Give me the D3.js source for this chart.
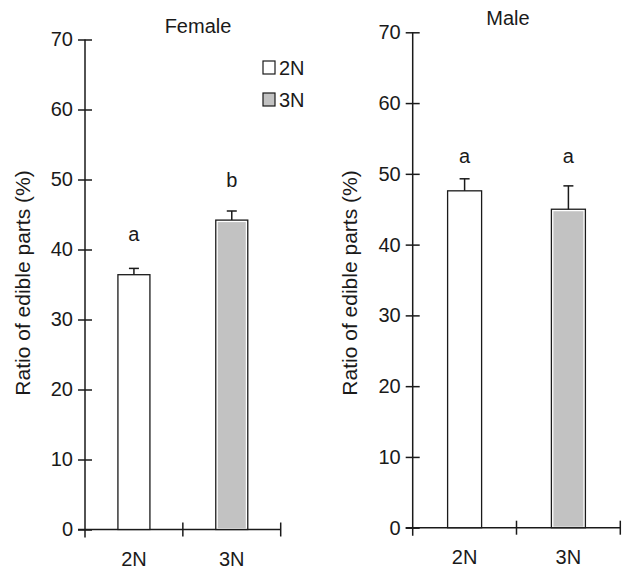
<!DOCTYPE html>
<html>
<head>
<meta charset="utf-8">
<script src="https://cdn.jsdelivr.net/npm/d3@7"></script>
<style>
  body { margin: 0; background: #fff; }
  text { font-family: "Liberation Sans", Arial, sans-serif; fill: #1a1a1a; }
</style>
</head>
<body>
<svg id="chart"></svg>
<script>
// values
const categories = ['2N', '3N'];
const femaleMeans = [36.4, 44.2];
const femaleSE = [0.9, 1.3];
const femaleLetters = ['a', 'b'];
const femaleLetterLevel = [41.2, 48.9];
const maleMeans = [47.6, 45.0];
const maleSE = [1.7, 3.3];
const maleLetters = ['a', 'a'];
const maleLetterLevel = [51.5, 51.5];
const yTicks = [0, 10, 20, 30, 40, 50, 60, 70];

const fills = { '2N': '#ffffff', '3N': '#c2c2c2' };

const svg = d3.select('#chart')
    .attr('width', 622)
    .attr('height', 569);

function panel(opt) {
    const g = svg.append('g');

    const y = d3.scaleLinear().domain([0, 70]).range([opt.y0, opt.y70]);
    const x = d3.scalePoint().domain(categories).range([opt.left, opt.right]).padding(0.5);

    // y axis, ticks crossing the line
    const yAxis = g.append('g')
        .attr('transform', `translate(${opt.left},0)`)
        .call(d3.axisLeft(y).tickValues(yTicks).tickSize(7).tickSizeOuter(0).tickPadding(5));
    yAxis.select('.domain').remove();
    yAxis.selectAll('.tick line').attr('x1', 7).attr('stroke', '#1a1a1a').attr('stroke-width', 1.5);
    yAxis.selectAll('.tick text')
        .style('font-size', '20px')
        .style('font-family', '"Liberation Sans", Arial, sans-serif')
        .attr('fill', '#1a1a1a');
    g.append('line')
        .attr('x1', opt.left).attr('x2', opt.left)
        .attr('y1', y(70)).attr('y2', y(0) + 8)
        .attr('stroke', '#1a1a1a').attr('stroke-width', 1.5);

    // x axis with boundary ticks
    const step = x.step();
    g.append('line')
        .attr('x1', opt.left - 7).attr('x2', opt.right)
        .attr('y1', y(0)).attr('y2', y(0))
        .attr('stroke', '#1a1a1a').attr('stroke-width', 1.5);
    g.selectAll('.xtick')
        .data(categories)
        .enter().append('line')
        .attr('x1', d => x(d) + step / 2).attr('x2', d => x(d) + step / 2)
        .attr('y1', y(0) - 7).attr('y2', y(0) + 7)
        .attr('stroke', '#1a1a1a').attr('stroke-width', 1.5);
    g.selectAll('.xlab')
        .data(categories)
        .enter().append('text')
        .attr('x', d => x(d))
        .attr('y', y(0) + 36)
        .attr('text-anchor', 'middle')
        .style('font-size', '20px')
        .text(d => d);

    // bars
    const bars = g.selectAll('.bar')
        .data(categories.map((c, i) => ({ c, m: opt.means[i], se: opt.se[i], lab: opt.letters[i], lev: opt.levels[i] })))
        .enter().append('g');

    bars.append('rect')
        .attr('x', d => x(d.c) - opt.bw / 2)
        .attr('width', opt.bw)
        .attr('y', d => y(d.m))
        .attr('height', d => y(0) - y(d.m))
        .attr('fill', '#fff')
        .attr('stroke', '#1a1a1a')
        .attr('stroke-width', 1.3);
    bars.filter(d => d.c === '3N').append('rect')
        .attr('x', d => x(d.c) - opt.bw / 2 + 2)
        .attr('width', opt.bw - 4)
        .attr('y', d => y(d.m) + 2)
        .attr('height', d => y(0) - y(d.m) - 3)
        .attr('fill', fills['3N']);

    // error bars (upper only)
    bars.append('line')
        .attr('x1', d => x(d.c)).attr('x2', d => x(d.c))
        .attr('y1', d => y(d.m)).attr('y2', d => y(d.m + d.se))
        .attr('stroke', '#1a1a1a').attr('stroke-width', 1.5);
    bars.append('line')
        .attr('x1', d => x(d.c) - 5).attr('x2', d => x(d.c) + 5)
        .attr('y1', d => y(d.m + d.se)).attr('y2', d => y(d.m + d.se))
        .attr('stroke', '#1a1a1a').attr('stroke-width', 1.5);

    // significance letters
    bars.append('text')
        .attr('x', d => x(d.c))
        .attr('y', d => y(d.lev))
        .attr('text-anchor', 'middle')
        .style('font-size', '20px')
        .text(d => d.lab);

    // title
    g.append('text')
        .attr('x', opt.titleX)
        .attr('y', opt.titleY)
        .attr('text-anchor', 'middle')
        .style('font-size', '20px')
        .text(opt.title);

    // y label
    g.append('text')
        .attr('transform', `translate(${opt.labelX},${opt.labelY}) rotate(-90)`)
        .attr('text-anchor', 'middle')
        .style('font-size', '21px')
        .text('Ratio of edible parts (%)');
}

panel({
    title: 'Female', titleX: 198, titleY: 33,
    left: 85, right: 280.7, y0: 529.5, y70: 39.5, bw: 32,
    means: femaleMeans, se: femaleSE, letters: femaleLetters, levels: femaleLetterLevel,
    labelX: 30, labelY: 283
});

panel({
    title: 'Male', titleX: 508, titleY: 25,
    left: 412.7, right: 620.3, y0: 527.7, y70: 32.3, bw: 34,
    means: maleMeans, se: maleSE, letters: maleLetters, levels: maleLetterLevel,
    labelX: 357, labelY: 283
});

// legend
const legend = svg.append('g');
legend.selectAll('rect')
    .data(categories)
    .enter().append('rect')
    .attr('x', 263)
    .attr('y', (d, i) => 61 + i * 32)
    .attr('width', 12)
    .attr('height', 13)
    .attr('fill', d => fills[d])
    .attr('stroke', '#1a1a1a')
    .attr('stroke-width', 1.2);
legend.selectAll('text')
    .data(categories)
    .enter().append('text')
    .attr('x', 279)
    .attr('y', (d, i) => 75 + i * 32)
    .style('font-size', '20px')
    .text(d => d);
</script>
</body>
</html>
